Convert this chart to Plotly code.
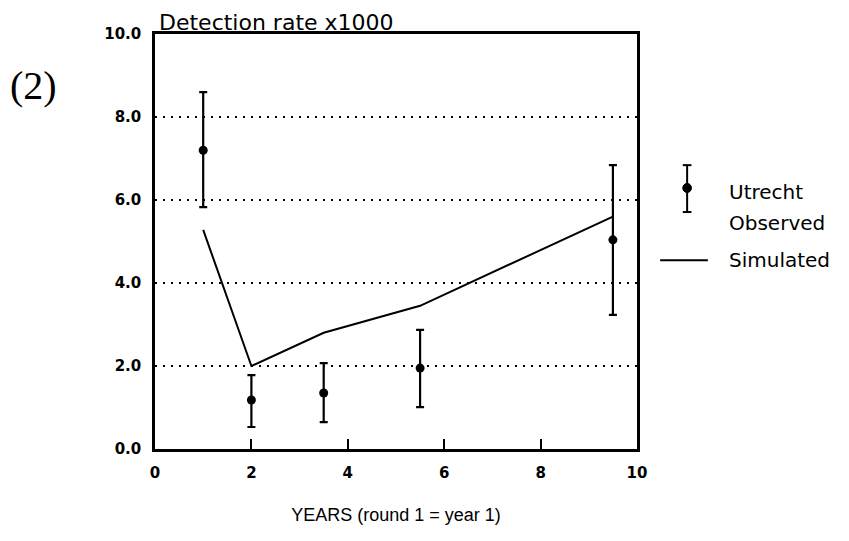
import plotly.graph_objects as go

# Data
sim_years = [1, 2, 3.5, 5.5, 9.5]
sim_rate = [5.28, 2.0, 2.8, 3.45, 5.6]

obs_years = [1, 2, 3.5, 5.5, 9.5]
obs_rate = [7.2, 1.18, 1.35, 1.95, 5.04]
obs_err_plus = [1.4, 0.6, 0.72, 0.92, 1.8]
obs_err_minus = [1.37, 0.65, 0.7, 0.94, 1.81]

x_ticks = [0, 2, 4, 6, 8, 10]
y_ticks = [0, 2, 4, 6, 8, 10]
y_tick_labels = ["0.0", "2.0", "4.0", "6.0", "8.0", "10.0"]

FONT = "Liberation Sans, Arial, sans-serif"
WIDE = "DejaVu Sans, Liberation Sans, sans-serif"

fig = go.Figure()

fig.add_trace(go.Scatter(
    x=sim_years, y=sim_rate, mode="lines",
    line=dict(color="black", width=2), showlegend=False, name="Simulated"))

fig.add_trace(go.Scatter(
    x=obs_years, y=obs_rate, mode="markers",
    marker=dict(color="black", size=9),
    error_y=dict(type="data", symmetric=False, array=obs_err_plus,
                 arrayminus=obs_err_minus, color="black", thickness=2.2, width=4),
    showlegend=False, name="Utrecht Observed"))

fig.update_layout(
    width=849, height=541,
    margin=dict(l=155, r=212, t=34, b=92),
    paper_bgcolor="white", plot_bgcolor="white",
    font=dict(family=FONT, color="black"),
    xaxis=dict(range=[0, 10], tickvals=x_ticks, ticktext=[str(v) for v in x_ticks],
               showgrid=False, zeroline=False,
               showline=True, mirror=True, linecolor="black", linewidth=2.5,
               ticks="inside", ticklen=10, tickwidth=1.5, tickcolor="black",
               tickfont=dict(size=15, family=WIDE, weight="bold"),
               ticklabelstandoff=8,
               title=dict(text="YEARS (round 1 = year 1)", font=dict(size=18, family=FONT),
                          standoff=28)),
    yaxis=dict(range=[0, 10], tickvals=y_ticks, ticktext=y_tick_labels,
               showgrid=True, gridcolor="black", gridwidth=2, griddash="2px,6px",
               zeroline=False,
               showline=True, mirror=True, linecolor="black", linewidth=2.5,
               ticks="", tickfont=dict(size=15, family=WIDE, weight="bold"),
               ticklabelstandoff=8),
)

# Axis header
fig.add_annotation(xref="paper", yref="paper", x=0.004, y=1.0, xanchor="left", yanchor="bottom",
                   text="Detection rate x1000", showarrow=False, yshift=-3,
                   font=dict(size=22, family=WIDE))
# Panel label
fig.add_annotation(xref="paper", yref="paper", x=-0.305, y=0.877, xanchor="left", yanchor="middle",
                   text="(2)", showarrow=False,
                   font=dict(size=40, family="Liberation Serif, Times New Roman, serif"))

# Custom legend (paper coordinates)
lx = 1.104
y_top, y_bot, y_dot = 0.684, 0.571, 0.629
fig.add_shape(type="line", xref="paper", yref="paper", x0=lx, x1=lx, y0=y_bot, y1=y_top,
              line=dict(color="black", width=2))
for yy in (y_bot, y_top):
    fig.add_shape(type="line", xref="paper", yref="paper", x0=lx - 0.009, x1=lx + 0.009,
                  y0=yy, y1=yy, line=dict(color="black", width=2))
fig.add_shape(type="circle", xref="paper", yref="paper",
              x0=lx - 0.009, x1=lx + 0.009, y0=y_dot - 0.011, y1=y_dot + 0.011,
              fillcolor="black", line=dict(color="black", width=1))
fig.add_annotation(xref="paper", yref="paper", x=1.187, y=0.619, xanchor="left", yanchor="middle",
                   text="Utrecht", showarrow=False, font=dict(size=20, family=WIDE))
fig.add_annotation(xref="paper", yref="paper", x=1.187, y=0.545, xanchor="left", yanchor="middle",
                   text="Observed", showarrow=False, font=dict(size=20, family=WIDE))
# Simulated glyph
fig.add_shape(type="line", xref="paper", yref="paper", x0=1.048, x1=1.147, y0=0.455, y1=0.455,
              line=dict(color="black", width=2))
fig.add_annotation(xref="paper", yref="paper", x=1.187, y=0.455, xanchor="left", yanchor="middle",
                   text="Simulated", showarrow=False, font=dict(size=20, family=WIDE))

fig.write_html("out.html")
